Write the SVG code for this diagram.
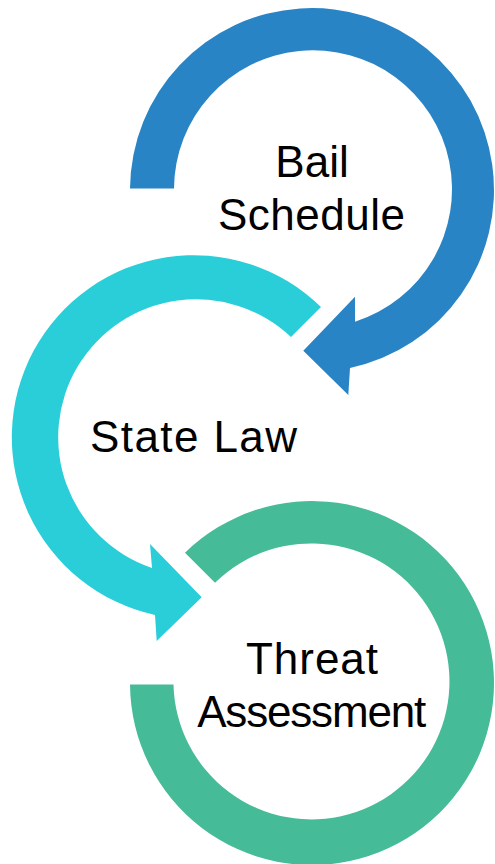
<svg xmlns="http://www.w3.org/2000/svg" width="495" height="864" viewBox="0 0 495 864">
<style>
.lbl{font-family:"Liberation Sans","Arial",sans-serif;font-size:44px;fill:#000;text-anchor:middle}
.blue{fill:#2984C6}
.cyan{fill:#29CED8}
.green{fill:#46BB98}
</style>
<rect width="495" height="864" fill="#fff"/>
<g id="connectors">
<path class="blue" d="M130,188.5 A182,182 0 1 1 350,368 L348.3,395 L303.3,350.7 L355,296.7 L355,321.7 A139,139 0 1 0 174,188.5 Z"/>
<path class="cyan" d="M321,307 A182,182 0 1 0 155,615 L156.7,641 L201.7,597.3 L150,544 L152,568 A138,138 0 1 1 291,337 Z"/>
<path class="green" d="M185,552.7 A182,182 0 1 1 130,684.5 L173.5,684.5 A138,138 0 1 0 215,582.7 Z"/>
</g>
<g id="node-bail">
<text class="lbl" x="312" y="177">Bail</text>
<text class="lbl" x="311.5" y="230" textLength="187">Schedule</text>
</g>
<g id="node-state">
<text class="lbl" x="193.5" y="452" textLength="207">State Law</text>
</g>
<g id="node-threat">
<text class="lbl" x="312" y="674" textLength="132">Threat</text>
<text class="lbl" x="311.7" y="727" textLength="229">Assessment</text>
</g>
</svg>
